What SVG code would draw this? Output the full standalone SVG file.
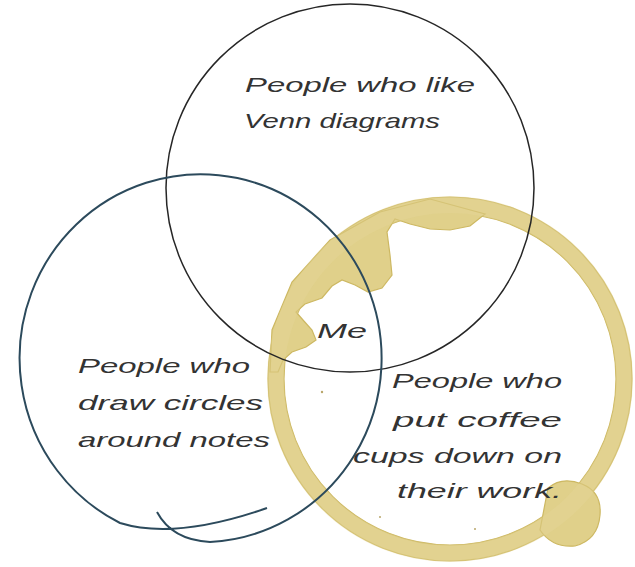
<svg xmlns="http://www.w3.org/2000/svg" width="635" height="567" viewBox="0 0 635 567">
<style>
.hand{font-family:"Liberation Sans","DejaVu Sans",sans-serif;font-style:italic;fill:#333333;font-size:21px}
.coffee{fill:#e0d08a;stroke:#cdb862;stroke-width:1.2}
</style>
<rect width="635" height="567" fill="#ffffff"/>
<g id="coffee">
<path class="coffee" fill-rule="evenodd" d="M632,379 A182,182 0 1 1 268,379 A182,182 0 1 1 632,379 Z M616,379 A166,166 0 1 0 284,379 A166,166 0 1 0 616,379 Z"/>
<path class="coffee" d="M485,214 L470,226 L450,230 L430,229 L410,224 L395,219 L387,232 L390,255 L392,275 L382,288 L368,292 L355,285 L342,280 L332,286 L322,298 L305,304 L296,312 L303,320 L312,330 L316,340 L306,347 L292,352 L283,360 L278,372 L270,372 L272,330 L292,282 L330,240 L380,212 L430,199 Z"/>
<path class="coffee" d="M548,488 Q562,476 582,484 Q602,492 600,515 Q598,540 575,546 Q552,548 540,530 Z"/>
<path d="M633,379 A183,183 0 1 1 267,379 A183,183 0 1 1 633,379 Z M616,379 A166,166 0 1 0 284,379 A166,166 0 1 0 616,379 Z" fill="#e6d89a" fill-rule="evenodd" opacity="0.35"/>
<circle cx="322" cy="392" r="1.2" fill="#b9a66a"/>
<circle cx="380" cy="517" r="1" fill="#b9a66a"/>
<circle cx="475" cy="529" r="1" fill="#b9a66a"/>
</g>
<g id="venn-circle">
<circle cx="350" cy="188" r="184" fill="none" stroke="#262626" stroke-width="1.5"/>
</g>
<g id="notes-circle">
<path d="M157,512 Q172,540 210,542 A181,184 0 1 0 120,523 Q175,540 267,508" fill="none" stroke="#2c4a5c" stroke-width="2"/>
</g>
<g id="labels">
<text class="hand" x="245" y="92" textLength="230" lengthAdjust="spacingAndGlyphs">People who like</text>
<text class="hand" x="244" y="128" textLength="196" lengthAdjust="spacingAndGlyphs">Venn diagrams</text>
<text class="hand" x="317" y="338" font-size="26" textLength="50" lengthAdjust="spacingAndGlyphs">Me</text>
<text class="hand" x="78" y="373" textLength="172" lengthAdjust="spacingAndGlyphs">People who</text>
<text class="hand" x="78" y="410" textLength="185" lengthAdjust="spacingAndGlyphs">draw circles</text>
<text class="hand" x="78" y="447" textLength="192" lengthAdjust="spacingAndGlyphs">around notes</text>
<text class="hand" x="392" y="388" textLength="170" lengthAdjust="spacingAndGlyphs">People who</text>
<text class="hand" x="393" y="427" textLength="169" lengthAdjust="spacingAndGlyphs">put coffee</text>
<text class="hand" x="353" y="463" textLength="209" lengthAdjust="spacingAndGlyphs">cups down on</text>
<text class="hand" x="397" y="498" textLength="165" lengthAdjust="spacingAndGlyphs">their work.</text>
</g>
</svg>
